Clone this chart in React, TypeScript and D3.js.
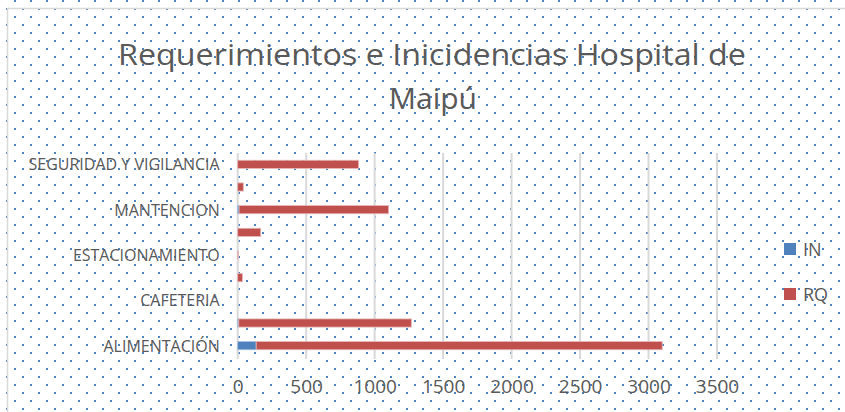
import React, { useEffect, useRef } from 'react';
import * as d3 from 'd3';

// categorias en el orden de la hoja (Excel las dibuja de abajo hacia arriba)
const categories = [
    'ALIMENTACIÓN', 'ASEO', 'CAFETERIA', 'CLIMATIZACION', 'ESTACIONAMIENTO',
    'LAVANDERIA', 'MANTENCION', 'ROPERIA', 'SEGURIDAD Y VIGILANCIA'
];
// solo se ven algunas etiquetas del eje
const shownLabels = ['ALIMENTACIÓN', 'CAFETERIA', 'ESTACIONAMIENTO', 'MANTENCION', 'SEGURIDAD Y VIGILANCIA'];
const inValues = [135, 8, 0, 0, 0, 0, 10, 0, 0];
const rqValues = [2965, 1260, 0, 34, 4, 168, 1092, 41, 883];
const xTicks = [0, 500, 1000, 1500, 2000, 2500, 3000, 3500];
const seriesNames = ['IN', 'RQ'];
const seriesColors = ['#4F81BD', '#C0504D'];
const seriesStroke = ['#A7C0DE', '#E6B9B8'];

const W = 845, H = 412;

export default function App() {
    const ref = useRef<SVGSVGElement>(null);

    useEffect(() => {
        const svg = d3.select(ref.current);
        svg.selectAll('*').remove();

        const margin = { top: 153, right: 128, bottom: 55, left: 237.7 };
        const x = d3.scaleLinear().domain([0, 3500]).range([margin.left, W - margin.right]);
        const y = d3.scaleBand<string>()
            .domain(categories.slice().reverse())
            .range([margin.top, H - margin.bottom])
            .paddingInner(0.64).paddingOuter(0.32);

        // fondo punteado
        const defs = svg.append('defs');
        const pat = defs.append('pattern').attr('id', 'dots')
            .attr('patternUnits', 'userSpaceOnUse').attr('width', 16).attr('height', 16);
        pat.append('rect').attr('x', 6).attr('y', 8).attr('width', 2).attr('height', 2).attr('fill', '#4F81BD');
        pat.append('rect').attr('x', 14).attr('y', 0).attr('width', 2).attr('height', 2).attr('fill', '#4F81BD');

        svg.append('rect').attr('width', W).attr('height', H).attr('fill', '#fff');
        svg.append('rect').attr('width', W).attr('height', H).attr('fill', 'url(#dots)');

        // borde del grafico
        svg.append('path').attr('d', `M7.5,${H} V8.5 H${W}`)
            .attr('fill', 'none').attr('stroke', '#D9D9D9').attr('stroke-width', 1.5);

        // titulo
        const title = svg.append('text').attr('fill', '#595959')
            .attr('font-family', 'Open Sans').attr('font-size', 30).attr('text-anchor', 'middle');
        title.append('tspan').attr('x', 432).attr('y', 65)
            .attr('textLength', 628).attr('lengthAdjust', 'spacingAndGlyphs')
            .text('Requerimientos e Inicidencias Hospital de');
        title.append('tspan').attr('x', 433).attr('y', 109).text('Maipú');

        // lineas de division
        svg.append('g').selectAll('line').data(xTicks).join('line')
            .attr('x1', d => x(d)).attr('x2', d => x(d))
            .attr('y1', margin.top).attr('y2', H - margin.bottom + 2)
            .attr('stroke', '#D9D9D9').attr('stroke-width', 2);

        // barras apiladas
        const rows = categories.map((c, i) => ({ cat: c, IN: inValues[i], RQ: rqValues[i] }));
        const stack = d3.stack<any>().keys(seriesNames)(rows);
        svg.append('g').selectAll('g').data(stack).join('g')
            .attr('fill', (_, i) => seriesColors[i])
            .attr('stroke', (_, i) => seriesStroke[i])
            .attr('stroke-width', 0.8)
            .selectAll('rect').data(d => d.filter(s => s[1] - s[0] > 0)).join('rect')
            .attr('x', d => x(d[0]))
            .attr('y', d => y(d.data.cat)!)
            .attr('width', d => x(d[1]) - x(d[0]))
            .attr('height', y.bandwidth());

        // eje y
        svg.append('g')
            .attr('transform', `translate(${margin.left},1)`)
            .call(d3.axisLeft(y).tickSize(0).tickPadding(18)
                .tickValues(categories.filter(c => shownLabels.includes(c))))
            .call(g => g.select('.domain').remove())
            .call(g => g.selectAll('text').attr('fill', '#595959')
                .attr('font-family', 'Open Sans').attr('font-size', 16));

        // eje x
        svg.append('g')
            .attr('transform', `translate(0,${H - margin.bottom})`)
            .call(d3.axisBottom(x).tickValues(xTicks).tickFormat(d3.format('d')).tickSize(0).tickPadding(23))
            .call(g => g.select('.domain').remove())
            .call(g => g.selectAll('text').attr('fill', '#595959')
                .attr('font-family', 'Open Sans').attr('font-size', 19));

        // leyenda
        const legend = svg.append('g').selectAll('g').data(seriesNames).join('g')
            .attr('transform', (_, i) => `translate(784,${243 + i * 45})`);
        legend.append('rect').attr('width', 12).attr('height', 12)
            .attr('fill', (_, i) => seriesColors[i]);
        legend.append('text').attr('x', 19).attr('y', 12.5)
            .attr('fill', '#595959').attr('font-family', 'Open Sans').attr('font-size', 18)
            .text(d => d);
    }, []);

    return (
        <svg ref={ref} width={W} height={H}
            style={{ position: 'absolute', left: 0, top: 0, display: 'block' }} />
    );
}
